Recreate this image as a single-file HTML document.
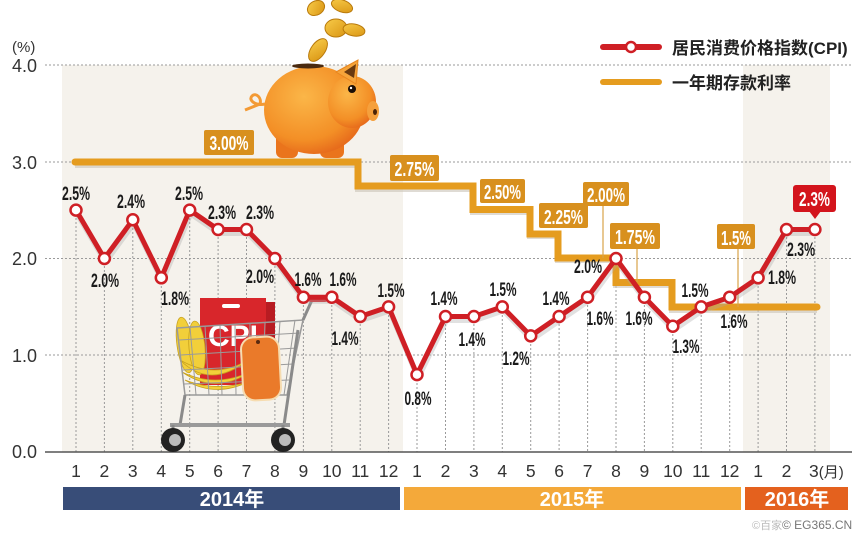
<!DOCTYPE html>
<html><head><meta charset="utf-8">
<style>
html,body{margin:0;padding:0;background:#fff;}
svg{display:block;}
.ax{font-family:"Liberation Sans","Noto Sans CJK SC",sans-serif;font-size:18px;fill:#333;}
.mo{font-family:"Liberation Sans","Noto Sans CJK SC",sans-serif;font-size:17.5px;fill:#333;text-anchor:middle;}
.lb{font-family:"Liberation Sans",sans-serif;font-size:19px;font-weight:bold;fill:#1a1a1a;text-anchor:middle;}
.rb{font-family:"Liberation Sans",sans-serif;font-size:20px;font-weight:bold;fill:#fff;text-anchor:middle;}
.yr{font-family:"Liberation Sans","Noto Sans CJK SC",sans-serif;font-size:20px;font-weight:bold;fill:#fff;text-anchor:middle;}
.lg{font-family:"Liberation Sans","Noto Sans CJK SC",sans-serif;font-size:17px;font-weight:bold;fill:#222;}
</style></head>
<body>
<svg width="860" height="538" viewBox="0 0 860 538" xmlns="http://www.w3.org/2000/svg">
<defs>
<radialGradient id="pigG" cx="0.4" cy="0.35" r="0.7">
<stop offset="0" stop-color="#fbb648"/><stop offset="0.7" stop-color="#f38f26"/><stop offset="1" stop-color="#e5661a"/>
</radialGradient>
<linearGradient id="coinG" x1="0" y1="0" x2="1" y2="1">
<stop offset="0" stop-color="#f8cc4a"/><stop offset="1" stop-color="#d99412"/>
</linearGradient>
</defs>
<rect width="860" height="538" fill="#fff"/>
<rect x="62" y="65" width="341" height="387" fill="#f5f2ec"/>
<rect x="743" y="65" width="87" height="387" fill="#f5f2ec"/>
<g stroke="#9a9a9a" stroke-width="1" stroke-dasharray="2,2">
<line x1="45" y1="65" x2="852" y2="65"/>
<line x1="45" y1="162" x2="852" y2="162"/>
<line x1="45" y1="258.5" x2="852" y2="258.5"/>
<line x1="45" y1="355" x2="852" y2="355"/>
</g>
<g stroke="#9a9a9a" stroke-width="1" stroke-dasharray="2,2">
<line x1="76" y1="210" x2="76" y2="452"/>
<line x1="104.4" y1="258" x2="104.4" y2="452"/>
<line x1="132.8" y1="220" x2="132.8" y2="452"/>
<line x1="161.3" y1="278" x2="161.3" y2="452"/>
<line x1="189.7" y1="210" x2="189.7" y2="452"/>
<line x1="218.1" y1="229" x2="218.1" y2="452"/>
<line x1="246.5" y1="229" x2="246.5" y2="452"/>
<line x1="274.9" y1="258" x2="274.9" y2="452"/>
<line x1="303.4" y1="297" x2="303.4" y2="452"/>
<line x1="331.8" y1="297" x2="331.8" y2="452"/>
<line x1="360.2" y1="316" x2="360.2" y2="452"/>
<line x1="388.6" y1="307" x2="388.6" y2="452"/>
<line x1="417" y1="375" x2="417" y2="452"/>
<line x1="445.5" y1="316" x2="445.5" y2="452"/>
<line x1="473.9" y1="316" x2="473.9" y2="452"/>
<line x1="502.3" y1="307" x2="502.3" y2="452"/>
<line x1="530.7" y1="336" x2="530.7" y2="452"/>
<line x1="559.1" y1="316" x2="559.1" y2="452"/>
<line x1="587.6" y1="297" x2="587.6" y2="452"/>
<line x1="616" y1="258" x2="616" y2="452"/>
<line x1="644.4" y1="297" x2="644.4" y2="452"/>
<line x1="672.8" y1="326" x2="672.8" y2="452"/>
<line x1="701.2" y1="307" x2="701.2" y2="452"/>
<line x1="729.7" y1="297" x2="729.7" y2="452"/>
<line x1="758.1" y1="278" x2="758.1" y2="452"/>
<line x1="786.5" y1="229" x2="786.5" y2="452"/>
<line x1="814.9" y1="229" x2="814.9" y2="452"/>
</g>
<line x1="45" y1="452" x2="852" y2="452" stroke="#555" stroke-width="1.5"/>
<text class="ax" x="12" y="52" style="font-size:15px">(%)</text>
<text class="ax" x="12" y="72">4.0</text>
<text class="ax" x="12" y="169">3.0</text>
<text class="ax" x="12" y="265">2.0</text>
<text class="ax" x="12" y="362">1.0</text>
<text class="ax" x="12" y="458">0.0</text>

<g stroke="#b97a0c" stroke-width="1">
<ellipse cx="316" cy="8" rx="9" ry="7" fill="url(#coinG)" transform="rotate(-30 316 8)"/>
<ellipse cx="342" cy="6" rx="11" ry="6" fill="url(#coinG)" transform="rotate(20 342 6)"/>
<ellipse cx="336" cy="28" rx="11" ry="9" fill="url(#coinG)"/>
<ellipse cx="354" cy="30" rx="11" ry="6" fill="url(#coinG)" transform="rotate(10 354 30)"/>
<ellipse cx="318" cy="50" rx="7" ry="13" fill="url(#coinG)" transform="rotate(35 318 50)"/>
</g>
<path d="M265,104 C255,106 248,100 252,96 C256,92 262,98 260,104 L245,110" fill="none" stroke="#f39a34" stroke-width="3"/>
<rect x="276" y="132" width="22" height="26" rx="6" fill="#ea741c"/>
<rect x="320" y="132" width="24" height="26" rx="6" fill="#ea741c"/>
<ellipse cx="314" cy="110" rx="50" ry="44" fill="url(#pigG)"/>
<ellipse cx="352" cy="102" rx="24" ry="26" fill="url(#pigG)"/>
<path d="M336,72 L358,60 L356,84 Z" fill="#f6a43a" stroke="#e8861f" stroke-width="1"/>
<path d="M344,72 L356,64 L354,78 Z" fill="#6a3a10"/>
<ellipse cx="373" cy="111" rx="6" ry="10" fill="#f5a03c"/>
<ellipse cx="375" cy="112" rx="2" ry="3" fill="#4a2408"/>
<circle cx="352" cy="89" r="4" fill="#1a0e06"/>
<circle cx="351" cy="88" r="1.2" fill="#fff"/>
<ellipse cx="308" cy="66" rx="16" ry="2.5" fill="#4a2a10"/>

<path d="M75,165 H358 V189 H473 V212 H530 V236 H558 V260 H616 V285 H672 V310 H817" fill="none" stroke="#c9c3b8" stroke-width="6" opacity="0.6"/>
<path d="M75,162 H358 V186 H473 V209.5 H530 V234 H558 V258 H616 V282.5 H672 V307 H817" fill="none" stroke="#e59c1f" stroke-width="7" stroke-linecap="round" stroke-linejoin="miter"/>
<g stroke="#d9a24a" stroke-width="1.2">
<line x1="603" y1="205" x2="603" y2="258"/>
<line x1="637" y1="249" x2="637" y2="282"/>
<line x1="738" y1="249" x2="738" y2="307"/>
</g>
<g fill="#d8901e">
<rect x="204" y="130" width="50" height="25" rx="2"/>
<rect x="390" y="155" width="49" height="26" rx="2"/>
<rect x="480" y="179" width="45" height="24" rx="2"/>
<rect x="539" y="203" width="49" height="25" rx="2"/>
<rect x="583" y="182" width="46" height="24" rx="2"/>
<rect x="610" y="223" width="50" height="26" rx="2"/>
<rect x="717" y="224" width="38" height="25" rx="2"/>
</g>
<text class="rb" x="229" y="150" textLength="39" lengthAdjust="spacingAndGlyphs">3.00%</text>
<text class="rb" x="414.5" y="176" textLength="40" lengthAdjust="spacingAndGlyphs">2.75%</text>
<text class="rb" x="502.5" y="199" textLength="37" lengthAdjust="spacingAndGlyphs">2.50%</text>
<text class="rb" x="563.5" y="224" textLength="39" lengthAdjust="spacingAndGlyphs">2.25%</text>
<text class="rb" x="606" y="202" textLength="38" lengthAdjust="spacingAndGlyphs">2.00%</text>
<text class="rb" x="635" y="244" textLength="40" lengthAdjust="spacingAndGlyphs">1.75%</text>
<text class="rb" x="736" y="245" textLength="30" lengthAdjust="spacingAndGlyphs">1.5%</text>

<g>
<rect x="255" y="302" width="20" height="82" fill="#b81c22"/>
<rect x="200" y="298" width="66" height="87" fill="#d8262b"/>
<rect x="222" y="304" width="18" height="4" rx="2" fill="#fff"/>
<text x="233" y="346" font-family="Liberation Sans,sans-serif" font-size="30" font-weight="bold" fill="#fff" text-anchor="middle">CPI</text>
<g fill="#f2cf3a" stroke="#c9a21e" stroke-width="0.8">
<ellipse cx="185" cy="345" rx="8" ry="28" transform="rotate(-8 185 345)"/>
<ellipse cx="197" cy="348" rx="8" ry="27" transform="rotate(-5 197 348)"/>
<path d="M180,360 Q210,390 248,360 Q215,380 180,360Z"/>
<path d="M182,372 Q215,395 250,372 Q215,388 182,372Z"/>
<path d="M185,380 Q215,398 248,382 Q215,392 185,380Z"/>
</g>
<g stroke="#9a9a9a" stroke-width="1" fill="none">
<path d="M177,328 L303,320 L287,395 L185,395 Z" stroke-width="1.5"/>
<line x1="190" y1="327" x2="196" y2="395"/>
<line x1="205" y1="326" x2="209" y2="395"/>
<line x1="220" y1="325" x2="222" y2="395"/>
<line x1="235" y1="324" x2="236" y2="395"/>
<line x1="250" y1="323" x2="249" y2="395"/>
<line x1="265" y1="322" x2="262" y2="395"/>
<line x1="280" y1="321" x2="275" y2="395"/>
<line x1="295" y1="320" x2="284" y2="395"/>
<line x1="179" y1="340" x2="300" y2="333"/>
<line x1="181" y1="355" x2="297" y2="348"/>
<line x1="183" y1="370" x2="293" y2="364"/>
<line x1="184" y1="384" x2="289" y2="380"/>
</g>
<path d="M303,320 L312,300" stroke="#8a8a8a" stroke-width="3" fill="none"/>
<rect x="308" y="295" width="20" height="7" rx="3" fill="#d8262b"/>
<path d="M298,330 L284,425" stroke="#8a8a8a" stroke-width="3" fill="none"/>
<path d="M185,395 L180,425" stroke="#8a8a8a" stroke-width="3" fill="none"/>
<line x1="170" y1="425" x2="290" y2="425" stroke="#9a9a9a" stroke-width="4"/>
<line x1="173" y1="425" x2="173" y2="436" stroke="#888" stroke-width="3"/>
<line x1="283" y1="425" x2="283" y2="436" stroke="#888" stroke-width="3"/>
<circle cx="173" cy="440" r="12" fill="#222"/>
<circle cx="175" cy="440" r="6" fill="#bbb"/>
<circle cx="283" cy="440" r="12" fill="#222"/>
<circle cx="285" cy="440" r="6" fill="#bbb"/>
<rect x="242" y="337" width="38" height="63" rx="12" fill="#ea7a2a" stroke="#f6dcb0" stroke-width="2" transform="rotate(-3 261 368)"/>
<circle cx="258" cy="342" r="2" fill="#5a2a10"/>
</g>

<polyline fill="none" stroke="#aaa" stroke-width="5" opacity="0.35" stroke-linejoin="round" transform="translate(1,4)"
points="76,210.1 104.4,258.5 132.8,219.8 161.3,277.8 189.7,210.1 218.1,229.5 246.5,229.5 274.9,258.5 303.4,297.2 331.8,297.2 360.2,316.5 388.6,306.9 417,374.6 445.5,316.5 473.9,316.5 502.3,306.9 530.7,335.9 559.1,316.5 587.6,297.2 616,258.5 644.4,297.2 672.8,326.2 701.2,306.9 729.7,297.2 758.1,277.8 786.5,229.5 814.9,229.5"/>
<polyline fill="none" stroke="#cf1f25" stroke-width="5" stroke-linejoin="round"
points="76,210.1 104.4,258.5 132.8,219.8 161.3,277.8 189.7,210.1 218.1,229.5 246.5,229.5 274.9,258.5 303.4,297.2 331.8,297.2 360.2,316.5 388.6,306.9 417,374.6 445.5,316.5 473.9,316.5 502.3,306.9 530.7,335.9 559.1,316.5 587.6,297.2 616,258.5 644.4,297.2 672.8,326.2 701.2,306.9 729.7,297.2 758.1,277.8 786.5,229.5 814.9,229.5"/>
<g fill="#fff" stroke="#cf1f25" stroke-width="2.5">
<circle cx="76" cy="210.1" r="5.5"/><circle cx="104.4" cy="258.5" r="5.5"/><circle cx="132.8" cy="219.8" r="5.5"/>
<circle cx="161.3" cy="277.8" r="5.5"/><circle cx="189.7" cy="210.1" r="5.5"/><circle cx="218.1" cy="229.5" r="5.5"/>
<circle cx="246.5" cy="229.5" r="5.5"/><circle cx="274.9" cy="258.5" r="5.5"/><circle cx="303.4" cy="297.2" r="5.5"/>
<circle cx="331.8" cy="297.2" r="5.5"/><circle cx="360.2" cy="316.5" r="5.5"/><circle cx="388.6" cy="306.9" r="5.5"/>
<circle cx="417" cy="374.6" r="5.5"/><circle cx="445.5" cy="316.5" r="5.5"/><circle cx="473.9" cy="316.5" r="5.5"/>
<circle cx="502.3" cy="306.9" r="5.5"/><circle cx="530.7" cy="335.9" r="5.5"/><circle cx="559.1" cy="316.5" r="5.5"/>
<circle cx="587.6" cy="297.2" r="5.5"/><circle cx="616" cy="258.5" r="5.5"/><circle cx="644.4" cy="297.2" r="5.5"/>
<circle cx="672.8" cy="326.2" r="5.5"/><circle cx="701.2" cy="306.9" r="5.5"/><circle cx="729.7" cy="297.2" r="5.5"/>
<circle cx="758.1" cy="277.8" r="5.5"/><circle cx="786.5" cy="229.5" r="5.5"/><circle cx="814.9" cy="229.5" r="5.5"/>
</g>
<g>
<text class="lb" x="76" y="200" textLength="28" lengthAdjust="spacingAndGlyphs">2.5%</text>
<text class="lb" x="105" y="287" textLength="28" lengthAdjust="spacingAndGlyphs">2.0%</text>
<text class="lb" x="131" y="208" textLength="28" lengthAdjust="spacingAndGlyphs">2.4%</text>
<text class="lb" x="175" y="305" textLength="28" lengthAdjust="spacingAndGlyphs">1.8%</text>
<text class="lb" x="189" y="200" textLength="28" lengthAdjust="spacingAndGlyphs">2.5%</text>
<text class="lb" x="222" y="219" textLength="28" lengthAdjust="spacingAndGlyphs">2.3%</text>
<text class="lb" x="260" y="219" textLength="28" lengthAdjust="spacingAndGlyphs">2.3%</text>
<text class="lb" x="260" y="283" textLength="28" lengthAdjust="spacingAndGlyphs">2.0%</text>
<text class="lb" x="308" y="286" textLength="27" lengthAdjust="spacingAndGlyphs">1.6%</text>
<text class="lb" x="343" y="286" textLength="27" lengthAdjust="spacingAndGlyphs">1.6%</text>
<text class="lb" x="345" y="345" textLength="27" lengthAdjust="spacingAndGlyphs">1.4%</text>
<text class="lb" x="391" y="297" textLength="27" lengthAdjust="spacingAndGlyphs">1.5%</text>
<text class="lb" x="418" y="405" textLength="27" lengthAdjust="spacingAndGlyphs">0.8%</text>
<text class="lb" x="444" y="305" textLength="27" lengthAdjust="spacingAndGlyphs">1.4%</text>
<text class="lb" x="472" y="346" textLength="27" lengthAdjust="spacingAndGlyphs">1.4%</text>
<text class="lb" x="503" y="296" textLength="27" lengthAdjust="spacingAndGlyphs">1.5%</text>
<text class="lb" x="516" y="365" textLength="27" lengthAdjust="spacingAndGlyphs">1.2%</text>
<text class="lb" x="556" y="305" textLength="27" lengthAdjust="spacingAndGlyphs">1.4%</text>
<text class="lb" x="600" y="325" textLength="27" lengthAdjust="spacingAndGlyphs">1.6%</text>
<text class="lb" x="588" y="273" textLength="28" lengthAdjust="spacingAndGlyphs">2.0%</text>
<text class="lb" x="639" y="325" textLength="27" lengthAdjust="spacingAndGlyphs">1.6%</text>
<text class="lb" x="686" y="353" textLength="27" lengthAdjust="spacingAndGlyphs">1.3%</text>
<text class="lb" x="695" y="297" textLength="27" lengthAdjust="spacingAndGlyphs">1.5%</text>
<text class="lb" x="734" y="328" textLength="27" lengthAdjust="spacingAndGlyphs">1.6%</text>
<text class="lb" x="782" y="284" textLength="28" lengthAdjust="spacingAndGlyphs">1.8%</text>
<text class="lb" x="801" y="256" textLength="28" lengthAdjust="spacingAndGlyphs">2.3%</text>
</g>
<rect x="793" y="185" width="43" height="27" rx="3" fill="#d3141c"/>
<path d="M809,211 L821,211 L815,219 Z" fill="#d3141c"/>
<text class="rb" x="814.5" y="206" textLength="31" lengthAdjust="spacingAndGlyphs">2.3%</text>

<g class="mo">
<text x="76" y="477">1</text><text x="104.4" y="477">2</text><text x="132.8" y="477">3</text>
<text x="161.3" y="477">4</text><text x="189.7" y="477">5</text><text x="218.1" y="477">6</text>
<text x="246.5" y="477">7</text><text x="274.9" y="477">8</text><text x="303.4" y="477">9</text>
<text x="331.8" y="477">10</text><text x="360.2" y="477">11</text><text x="388.6" y="477">12</text>
<text x="417" y="477">1</text><text x="445.5" y="477">2</text><text x="473.9" y="477">3</text>
<text x="502.3" y="477">4</text><text x="530.7" y="477">5</text><text x="559.1" y="477">6</text>
<text x="587.6" y="477">7</text><text x="616" y="477">8</text><text x="644.4" y="477">9</text>
<text x="672.8" y="477">10</text><text x="701.2" y="477">11</text><text x="729.7" y="477">12</text>
<text x="758.1" y="477">1</text><text x="786.5" y="477">2</text>
</g>
<text class="mo" x="809" y="477" style="text-anchor:start">3<tspan style="font-size:15px">(月)</tspan></text>

<rect x="63" y="487" width="337" height="23" fill="#384d78"/>
<rect x="404" y="487" width="337" height="23" fill="#f4a93a"/>
<rect x="745" y="487" width="103" height="23" fill="#e4611e"/>
<text class="yr" x="232" y="506">2014年</text>
<text class="yr" x="572" y="506">2015年</text>
<text class="yr" x="797" y="506">2016年</text>

<line x1="603" y1="47" x2="659" y2="47" stroke="#cf1f25" stroke-width="6" stroke-linecap="round"/>
<circle cx="631" cy="47" r="5" fill="#fff" stroke="#cf1f25" stroke-width="2.5"/>
<text class="lg" x="672" y="54">居民消费价格指数(CPI)</text>
<line x1="603" y1="82" x2="659" y2="82" stroke="#e59c1f" stroke-width="6" stroke-linecap="round"/>
<text class="lg" x="672" y="89">一年期存款利率</text>

<text x="752" y="529" font-family="Liberation Sans,'Noto Sans CJK SC',sans-serif" font-size="11" fill="#bbb">©百家</text>
<text x="782" y="529" font-family="Liberation Sans,sans-serif" font-size="12" fill="#777">© EG365.CN</text>
</svg>
</body></html>
